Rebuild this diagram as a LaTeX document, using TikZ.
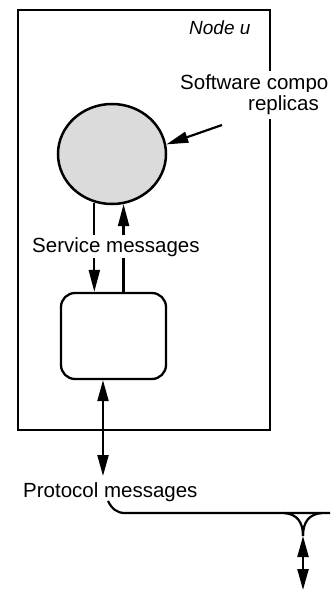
\documentclass[tikz,border=0pt]{standalone}
\usepackage{fontspec}
\setmainfont{Liberation Sans}
\usetikzlibrary{arrows.meta,shapes.geometric}
\begin{document}
\begin{tikzpicture}[x=1bp,y=-1bp,
  every node/.style={font=\fontsize{20.5bp}{24bp}\selectfont},
  ln/.style={line width=2.2bp},
  arr/.style={ln,-{Triangle[length=22bp,width=11bp]}},
  darr/.style={ln,{Triangle[length=21bp,width=11bp]}-{Triangle[length=21bp,width=11bp]}},
  lbl/.style={fill=white,inner sep=2bp,anchor=base west}]
\useasboundingbox (0,0) rectangle (332,592);
\fill[white] (0,0) rectangle (332,592);
% outer node box
\node[draw,ln,minimum width=252bp,minimum height=420bp,inner sep=0] (nodeu) at (144,220) {};
\node[anchor=base west,inner sep=2bp,font=\fontsize{19bp}{22bp}\selectfont\itshape] (nlabel) at (187,35) {Node u};
% replicas circle
\node[ellipse,draw,line width=2.5bp,fill=black!14,minimum width=108bp,minimum height=100bp,inner sep=0] (circ) at (112,154) {};
% rounded box
\node[draw,line width=2.3bp,rounded corners=14bp,minimum width=105bp,minimum height=86bp,inner sep=0] (box) at (113.5,336) {};
% software label
\node[lbl,inner sep=4bp] (sw1) at (176,90) {Software compo};
\node[lbl,inner sep=4bp] (sw2) at (244,111) {replicas};
\coordinate (swa) at (222,125);
\draw[arr] (swa) -- (circ.10);
% service messages
\draw[arr] (circ.-110) -- (box.north -| circ.-110);
\draw[arr] (box.north -| circ.-77) -- (circ.-77);
\node[lbl] (svc) at (30,252) {Service messages};
% protocol messages
\coordinate (pbot) at (103,476);
\draw[darr] (box.south -| pbot) -- (pbot);
\node[lbl] (proto) at (21,497) {Protocol messages};
\coordinate (pc) at (108,501);
\coordinate (pk) at (125,513);
\coordinate (lineend) at (330,513);
\draw[ln] (pc) .. controls (112,509) and (117,513) .. (pk) -- (lineend);
% junction
\coordinate (yj) at (303,536);
\coordinate (yl) at (284,513);
\coordinate (yr) at (322,513);
\coordinate (bot) at (303,590);
\draw[ln] (yl) .. controls (297,514) and (303,522) .. (yj);
\draw[ln] (yr) .. controls (309,514) and (303,522) .. (yj);
\draw[darr] (yj) -- (bot);
\end{tikzpicture}
\end{document}
